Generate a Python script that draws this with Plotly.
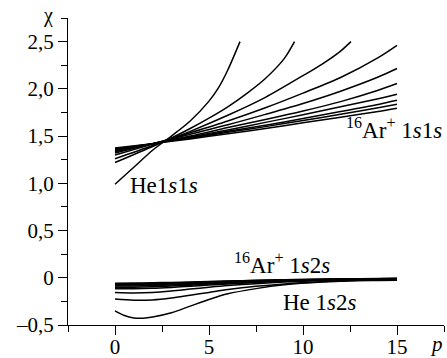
import plotly.graph_objects as go

# ---- data ----
# 1s1s curves (upper group), from He (steepest) to 16Ar+ (flattest)
he11_p = [0, 1, 2, 3, 4, 5, 5.5, 6, 6.65]
he11_chi = [0.99, 1.17, 1.35, 1.50, 1.66, 1.87, 2.01, 2.20, 2.50]

ion11b_p = [0, 2, 3, 4, 5, 6, 7, 8, 9, 9.55]
ion11b_chi = [1.22, 1.39, 1.48, 1.58, 1.69, 1.81, 1.95, 2.11, 2.32, 2.50]

ion11c_p = [0, 2, 4, 6, 8, 10, 11, 12, 12.55]
ion11c_chi = [1.26, 1.40, 1.55, 1.72, 1.91, 2.14, 2.26, 2.40, 2.50]

p_grid11 = [0, 2, 4, 6, 8, 10, 12, 14, 15]
ion11_rest = [
    [1.30, 1.415, 1.535, 1.66, 1.80, 1.955, 2.12, 2.33, 2.46],
    [1.32, 1.42, 1.52, 1.62, 1.73, 1.845, 1.975, 2.125, 2.215],
    [1.335, 1.42, 1.50, 1.59, 1.675, 1.765, 1.865, 1.985, 2.056],
    [1.345, 1.42, 1.49, 1.565, 1.645, 1.725, 1.81, 1.895, 1.943],
    [1.355, 1.42, 1.485, 1.55, 1.615, 1.685, 1.76, 1.835, 1.879],
    [1.365, 1.42, 1.48, 1.54, 1.60, 1.665, 1.73, 1.80, 1.837],
    [1.375, 1.42, 1.47, 1.525, 1.58, 1.64, 1.70, 1.76, 1.795],
]

# 1s2s curves (lower group)
he12_p = [0, 0.5, 1, 1.5, 2, 3, 4, 5, 6, 7.5, 9, 11, 13, 15]
he12_chi = [-0.35, -0.40, -0.425, -0.428, -0.415, -0.37, -0.30, -0.23, -0.17,
            -0.115, -0.075, -0.045, -0.03, -0.025]

p_grid12 = [0, 1, 2, 3, 4, 5, 6, 7.5, 9, 11, 13, 15]
ion12 = [
    [-0.225, -0.238, -0.235, -0.215, -0.185, -0.155, -0.125, -0.09, -0.065, -0.043, -0.03, -0.022],
    [-0.155, -0.16, -0.155, -0.14, -0.12, -0.10, -0.082, -0.062, -0.045, -0.03, -0.021, -0.016],
    [-0.115, -0.117, -0.112, -0.102, -0.09, -0.077, -0.065, -0.05, -0.037, -0.025, -0.017, -0.012],
    [-0.10, -0.10, -0.096, -0.088, -0.078, -0.067, -0.057, -0.044, -0.033, -0.022, -0.015, -0.011],
    [-0.088, -0.087, -0.083, -0.076, -0.068, -0.059, -0.05, -0.039, -0.029, -0.02, -0.014, -0.01],
    [-0.078, -0.077, -0.073, -0.067, -0.06, -0.052, -0.044, -0.035, -0.026, -0.018, -0.013, -0.009],
    [-0.07, -0.069, -0.066, -0.06, -0.054, -0.047, -0.04, -0.032, -0.024, -0.017, -0.012, -0.008],
    [-0.063, -0.062, -0.059, -0.054, -0.049, -0.043, -0.037, -0.029, -0.022, -0.016, -0.011, -0.008],
    [-0.057, -0.056, -0.053, -0.049, -0.044, -0.039, -0.034, -0.027, -0.021, -0.015, -0.011, -0.007],
]

x_tickvals = [0, 5, 10, 15]
x_ticktext = ["0", "5", "10", "15"]
y_tickvals = [-0.5, 0, 0.5, 1.0, 1.5, 2.0, 2.5]
y_ticktext = ["\u20130,5", "0", "0,5", "1,0", "1,5", "2,0", "2,5"]

# ---- figure ----
FONT = "Times New Roman, Liberation Serif, serif"
W, H = 447, 358
ML, MR, MT, MB = 68, 3, 18, 33
PW, PH = W - ML - MR, H - MT - MB

line_style = dict(color="black", width=1.5, shape="spline", smoothing=0.8)

fig = go.Figure()
curves = [(he11_p, he11_chi), (ion11b_p, ion11b_chi), (ion11c_p, ion11c_chi)]
curves += [(p_grid11, c) for c in ion11_rest]
curves += [(he12_p, he12_chi)]
curves += [(p_grid12, c) for c in ion12]
for px, cy in curves:
    fig.add_trace(go.Scatter(x=px, y=cy, mode="lines", line=line_style,
                             showlegend=False, hoverinfo="skip"))

fig.update_layout(
    width=W, height=H,
    margin=dict(l=ML, r=MR, t=MT, b=MB, autoexpand=False),
    paper_bgcolor="white", plot_bgcolor="white",
    font=dict(family=FONT, size=21, color="black"),
    showlegend=False,
)
axis_common = dict(
    showgrid=False, zeroline=False, automargin=False,
    showline=True, linecolor="black", linewidth=1.3,
    ticks="outside", ticklen=9, tickwidth=1.3, tickcolor="black",
    tickfont=dict(family=FONT, size=21, color="black"),
)
fig.update_xaxes(
    range=[-2.5, 17.5], tickmode="array", tickvals=x_tickvals, ticktext=x_ticktext,
    minor=dict(dtick=2.5, tick0=0, ticks="outside", ticklen=6,
               tickwidth=1.3, tickcolor="black", showgrid=False),
    ticklabelstandoff=-6,
    **axis_common,
)
fig.update_yaxes(
    range=[-0.5, 2.75], tickmode="array", tickvals=y_tickvals, ticktext=y_ticktext,
    minor=dict(dtick=0.25, tick0=0, ticks="outside", ticklen=6,
               tickwidth=1.3, tickcolor="black", showgrid=False),
    **axis_common,
)

lab_font = dict(family=FONT, size=23, color="black")
fig.add_annotation(x=2.6, y=0.98, xref="x", yref="y", showarrow=False,
                   text="He1<i>s</i>1<i>s</i>", font=lab_font)
fig.add_annotation(x=17.5, y=1.58, xref="x", yref="y", showarrow=False,
                   xanchor="right",
                   text="<sup>16</sup>Ar<sup>+</sup> 1<i>s</i>1<i>s</i>", font=lab_font)
fig.add_annotation(x=8.9, y=0.15, xref="x", yref="y", showarrow=False,
                   text="<sup>16</sup>Ar<sup>+</sup> 1<i>s</i>2<i>s</i>", font=lab_font)
fig.add_annotation(x=10.9, y=-0.26, xref="x", yref="y", showarrow=False,
                   text="He 1<i>s</i>2<i>s</i>", font=lab_font)
# axis titles placed in paper coordinates (converted from pixel positions)
fig.add_annotation(xref="paper", yref="paper", x=(48 - ML) / PW, y=(H - MB - 29) / PH,
                   xanchor="center", yanchor="bottom", showarrow=False,
                   text="\u03c7", font=dict(family=FONT, size=20, color="black"))
fig.add_annotation(xref="paper", yref="paper", x=(436 - ML) / PW, y=(H - MB - 344) / PH,
                   xanchor="center", yanchor="middle", showarrow=False,
                   text="<i>p</i>", font=dict(family=FONT, size=21, color="black"))

fig.write_html(
    "out.html",
    config={"displayModeBar": False},
    post_script="document.body.style.margin='0';document.body.style.overflow='hidden';",
)
